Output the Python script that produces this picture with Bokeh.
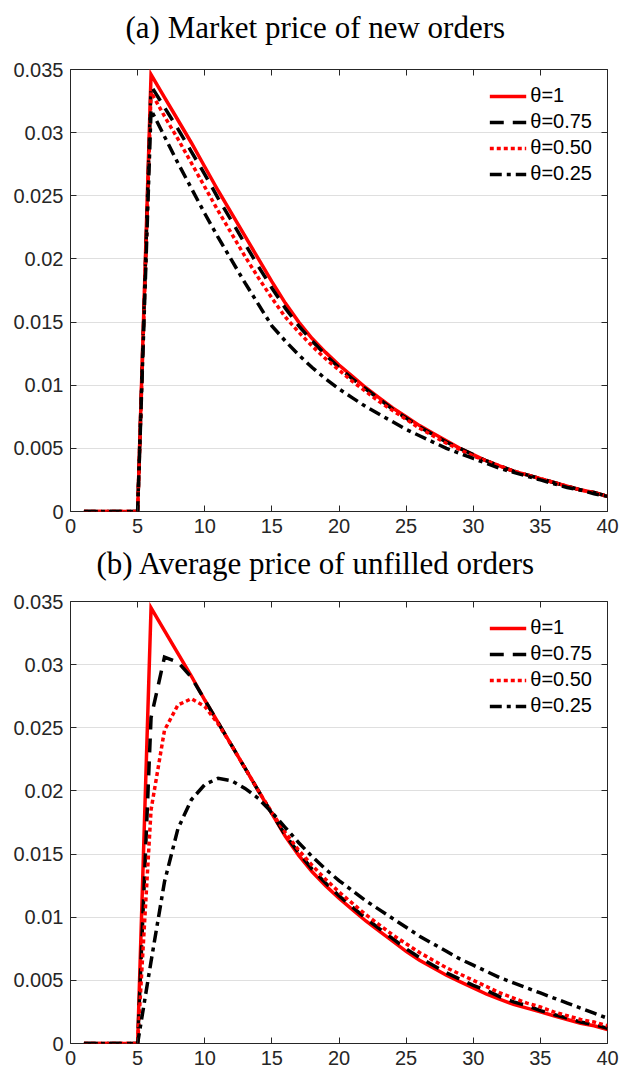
from bokeh.plotting import figure
from bokeh.layouts import column
from bokeh.models import Range1d, LinearAxis, FixedTicker, Legend, LegendItem
from bokeh.embed import file_html
from bokeh.resources import INLINE

# Horizon (periods after the start of the simulation)
periods = list(range(1, 41))

x_ticks = [0, 5, 10, 15, 20, 25, 30, 35, 40]
y_ticks = [0, 0.005, 0.01, 0.015, 0.02, 0.025, 0.03, 0.035]
y_tick_labels = ["0", "0.005", "0.01", "0.015", "0.02", "0.025", "0.03", "0.035"]

series_labels = ["θ=1", "θ=0.75", "θ=0.50", "θ=0.25"]

# (a) Market price of new orders
mkt_theta_100 = [0, 0, 0, 0, 0,
                 0.0346, 0.0328, 0.0310, 0.0292, 0.0273, 0.0254, 0.0236, 0.0218, 0.0200, 0.0182,
                 0.0165, 0.0150, 0.0137, 0.0126, 0.0116, 0.0107, 0.0098, 0.0090, 0.0082, 0.0075,
                 0.0068, 0.0062, 0.0056, 0.0050, 0.0045, 0.0040, 0.0036, 0.0032, 0.0029, 0.0026,
                 0.0023, 0.0020, 0.0017, 0.0015, 0.0012]
mkt_theta_075 = [0, 0, 0, 0, 0,
                 0.0337, 0.0320, 0.0303, 0.0285, 0.0267, 0.0248, 0.0230, 0.0212, 0.0194, 0.0177,
                 0.0161, 0.0147, 0.0135, 0.0124, 0.0114, 0.0105, 0.0097, 0.0089, 0.0081, 0.0074,
                 0.0067, 0.0061, 0.0055, 0.0050, 0.0045, 0.0040, 0.0036, 0.0032, 0.0029, 0.0026,
                 0.0023, 0.0020, 0.0017, 0.0015, 0.0012]
mkt_theta_050 = [0, 0, 0, 0, 0,
                 0.0332, 0.0313, 0.0295, 0.0276, 0.0257, 0.0238, 0.0220, 0.0202, 0.0185, 0.0169,
                 0.0154, 0.0142, 0.0131, 0.0121, 0.0112, 0.0103, 0.0095, 0.0087, 0.0080, 0.0073,
                 0.0066, 0.0060, 0.0054, 0.0049, 0.0044, 0.0040, 0.0036, 0.0032, 0.0029, 0.0026,
                 0.0023, 0.0020, 0.0017, 0.0015, 0.0012]
mkt_theta_025 = [0, 0, 0, 0, 0,
                 0.0318, 0.0297, 0.0276, 0.0256, 0.0236, 0.0217, 0.0199, 0.0181, 0.0164, 0.0147,
                 0.0135, 0.0124, 0.0114, 0.0105, 0.0097, 0.0090, 0.0083, 0.0077, 0.0071, 0.0065,
                 0.0060, 0.0055, 0.0050, 0.0046, 0.0042, 0.0038, 0.0034, 0.0031, 0.0028, 0.0025,
                 0.0022, 0.0019, 0.0017, 0.0014, 0.0012]

# (b) Average price of unfilled orders
avg_theta_100 = [0, 0, 0, 0, 0,
                 0.0345, 0.0327, 0.0309, 0.0291, 0.0272, 0.0254, 0.0236, 0.0218, 0.0200, 0.0182,
                 0.0164, 0.0149, 0.0136, 0.0125, 0.0115, 0.0106, 0.0097, 0.0089, 0.0081, 0.0073,
                 0.0066, 0.0060, 0.0054, 0.0049, 0.0044, 0.0039, 0.0035, 0.0031, 0.0028, 0.0025,
                 0.0022, 0.0019, 0.0016, 0.0014, 0.0011]
avg_theta_075 = [0, 0, 0, 0, 0,
                 0.0258, 0.0306, 0.0302, 0.0290, 0.0272, 0.0254, 0.0236, 0.0218, 0.0200, 0.0182,
                 0.0165, 0.0151, 0.0138, 0.0127, 0.0117, 0.0108, 0.0099, 0.0091, 0.0083, 0.0075,
                 0.0068, 0.0062, 0.0056, 0.0051, 0.0046, 0.0042, 0.0037, 0.0033, 0.0030, 0.0026,
                 0.0023, 0.0020, 0.0017, 0.0015, 0.0012]
avg_theta_050 = [0, 0, 0, 0, 0,
                 0.0185, 0.0248, 0.0268, 0.0273, 0.0267, 0.0253, 0.0236, 0.0218, 0.0200, 0.0183,
                 0.0167, 0.0153, 0.0141, 0.0130, 0.0120, 0.0111, 0.0102, 0.0094, 0.0086, 0.0079,
                 0.0072, 0.0066, 0.0060, 0.0055, 0.0050, 0.0045, 0.0040, 0.0036, 0.0032, 0.0029,
                 0.0025, 0.0022, 0.0019, 0.0017, 0.0014]
avg_theta_025 = [0, 0, 0, 0, 0,
                 0.0065, 0.0128, 0.0170, 0.0193, 0.0205, 0.0210, 0.0208, 0.0202, 0.0194, 0.0183,
                 0.0171, 0.0159, 0.0148, 0.0138, 0.0129, 0.0121, 0.0113, 0.0106, 0.0099, 0.0092,
                 0.0085, 0.0079, 0.0073, 0.0067, 0.0062, 0.0057, 0.0052, 0.0048, 0.0044, 0.0040,
                 0.0036, 0.0032, 0.0028, 0.0024, 0.0020]

# line styles: solid red, dashed black, dotted red, dash-dot black
styles = [
    dict(line_color="#ff0000", line_dash="solid"),
    dict(line_color="#000000", line_dash="14 9"),
    dict(line_color="#ff0000", line_dash="4 3"),
    dict(line_color="#000000", line_dash="12 5 4 5"),
]

AXIS_COLOR = "#262626"
TICK_FONT = "Liberation Sans"


def style_axis(ax, ticks, show_labels, standoff):
    ax.ticker = FixedTicker(ticks=ticks)
    ax.axis_line_color = None
    ax.major_tick_in = 6
    ax.major_tick_out = 0
    ax.minor_tick_line_color = None
    ax.major_tick_line_color = AXIS_COLOR
    ax.major_tick_line_width = 1
    ax.major_label_text_font = TICK_FONT
    ax.major_label_standoff = standoff
    if show_labels:
        ax.major_label_text_font_size = "20px"
        ax.major_label_text_color = AXIS_COLOR
    else:
        # tick marks only on the mirrored sides of the box
        ax.major_label_text_font_size = "1px"
        ax.major_label_text_color = None


def make_panel(title_text, series, height, b_top, b_bottom, b_left, b_right,
               title_left, title_gap):
    p = figure(width=624, height=height,
               x_range=Range1d(0, 40), y_range=Range1d(0, 0.035),
               output_backend="svg", toolbar_location=None,
               min_border_top=b_top, min_border_bottom=b_bottom,
               min_border_left=b_left, min_border_right=b_right,
               background_fill_color="white", border_fill_color="white")
    p.title.text = title_text
    p.title.text_font = "Liberation Serif"
    p.title.text_font_size = "31px"
    p.title.text_font_style = "normal"
    p.title.text_color = "#000000"
    p.title.text_line_height = 1.0
    p.title.align = "left"
    p.title.vertical_align = "bottom"
    p.title.offset = title_left
    p.title.standoff = 0

    p.outline_line_color = AXIS_COLOR
    p.outline_line_width = 1
    p.outline_line_alpha = 1

    p.xgrid.visible = False
    p.ygrid.grid_line_color = AXIS_COLOR
    p.ygrid.grid_line_alpha = 0.15
    p.ygrid.ticker = FixedTicker(ticks=y_ticks)

    bottom_axis = p.below[0]
    left_axis = p.left[0]
    top_axis = LinearAxis()
    right_axis = LinearAxis()
    p.add_layout(top_axis, "above")
    p.add_layout(right_axis, "right")

    # invisible axis that only reserves room between the box and the heading
    gap_axis = LinearAxis(ticker=FixedTicker(ticks=[20]), axis_line_color=None,
                          major_tick_in=0, major_tick_out=title_gap,
                          major_tick_line_color=None, minor_tick_line_color=None,
                          major_label_text_color=None, major_label_text_font_size="1px",
                          major_label_standoff=0)
    p.add_layout(gap_axis, "above")

    style_axis(bottom_axis, x_ticks, True, 7)
    style_axis(top_axis, x_ticks, False, 0)
    style_axis(left_axis, y_ticks, True, 7)
    style_axis(right_axis, y_ticks, False, 0)
    left_axis.major_label_overrides = {t: lab for t, lab in zip(y_ticks, y_tick_labels)}

    items = []
    for values, label, st in zip(series, series_labels, styles):
        r = p.line(periods, values, line_width=3.5, line_join="miter", **st)
        items.append(LegendItem(label=label, renderers=[r]))

    legend = Legend(items=items, location="top_right")
    legend.background_fill_alpha = 0
    legend.border_line_alpha = 0
    legend.label_text_font = TICK_FONT
    legend.label_text_font_size = "20px"
    legend.label_text_color = "#000000"
    legend.glyph_width = 37
    legend.glyph_height = 20
    legend.label_height = 20
    legend.label_standoff = 4
    legend.spacing = 3
    legend.padding = 4
    legend.margin = 11
    p.add_layout(legend)
    return p


panel_a = make_panel("(a) Market price of new orders",
                     [mkt_theta_100, mkt_theta_075, mkt_theta_050, mkt_theta_025],
                     541, 69, 30, 70, 12, 55, 25)
panel_b = make_panel("(b) Average price of unfilled orders",
                     [avg_theta_100, avg_theta_075, avg_theta_050, avg_theta_025],
                     533, 60, 31, 65, 17, 26, 21)

layout = column(panel_a, panel_b, spacing=0)
open("out.html", "w").write(file_html(layout, INLINE))
